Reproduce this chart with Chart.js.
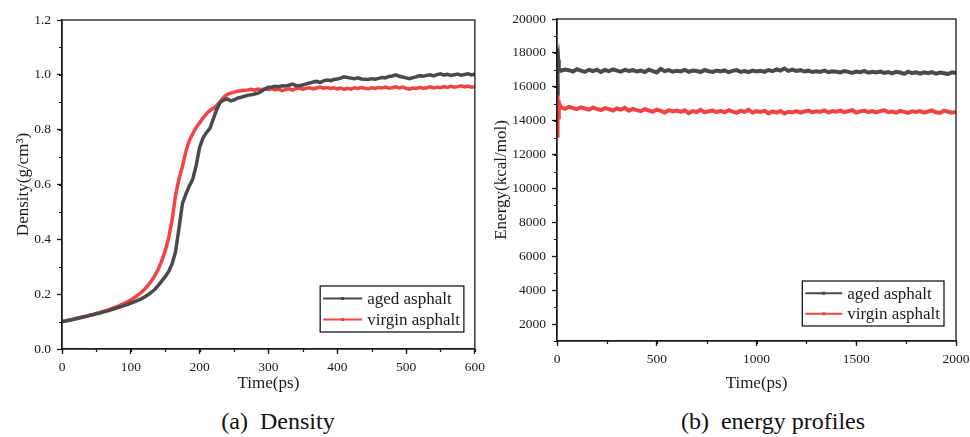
<!DOCTYPE html>
<html>
<head>
<meta charset="utf-8">
<script src="https://cdn.jsdelivr.net/npm/chart.js@4"></script>
<style>
  body { margin: 0; background: #fff; width: 970px; height: 437px; position: relative; overflow: hidden; }
  .box { position: absolute; top: 0; }
  .cap { position: absolute; font-family: "Times New Roman", "Liberation Serif", "DejaVu Serif", serif; font-size: 24px; color: #111; white-space: pre; transform: translateX(-50%); top: 408px; }
</style>
</head>
<body>
<div class="box" style="left:0;width:490px;height:400px"><canvas id="densityChart"></canvas></div>
<div class="box" style="left:490px;width:490px;height:400px"><canvas id="energyChart"></canvas></div>
<div class="cap" style="left:278px">(a)  Density</div>
<div class="cap" style="left:773px">(b)  energy profiles</div>
<script>
const seriesNames = ['aged asphalt', 'virgin asphalt'];
const seriesColors = ['#4a4a4a', '#f04444'];

// density, every 5 ps from 0 to 600
const densityTime = [
  0, 5, 10, 15, 20, 25, 30, 35, 40, 45, 50, 55, 60, 65, 70, 75, 80, 85, 90, 95,
  100, 105, 110, 115, 120, 125, 130, 135, 140, 145, 150, 155, 160, 165, 170, 175, 180, 185, 190, 195,
  200, 205, 210, 215, 220, 225, 230, 235, 240, 245, 250, 255, 260, 265, 270, 275, 280, 285, 290, 295,
  300, 305, 310, 315, 320, 325, 330, 335, 340, 345, 350, 355, 360, 365, 370, 375, 380, 385, 390, 395,
  400, 405, 410, 415, 420, 425, 430, 435, 440, 445, 450, 455, 460, 465, 470, 475, 480, 485, 490, 495,
  500, 505, 510, 515, 520, 525, 530, 535, 540, 545, 550, 555, 560, 565, 570, 575, 580, 585, 590, 595, 600
];
const densityAged = [
  0.100, 0.102, 0.105, 0.107, 0.110, 0.113, 0.116, 0.119, 0.122, 0.125, 0.128, 0.131, 0.135, 0.138, 0.142, 0.146, 0.150, 0.154, 0.158, 0.162,
  0.167, 0.172, 0.177, 0.183, 0.190, 0.198, 0.207, 0.218, 0.232, 0.248, 0.264, 0.283, 0.310, 0.355, 0.440, 0.530, 0.565, 0.595, 0.620, 0.670,
  0.735, 0.770, 0.790, 0.805, 0.840, 0.875, 0.900, 0.908, 0.912, 0.905, 0.908, 0.915, 0.918, 0.922, 0.925, 0.927, 0.930, 0.933, 0.940, 0.948,
  0.955, 0.956, 0.958, 0.957, 0.960, 0.959, 0.962, 0.966, 0.961, 0.960, 0.963, 0.967, 0.970, 0.974, 0.976, 0.972, 0.978, 0.981, 0.979, 0.983,
  0.985, 0.988, 0.993, 0.990, 0.988, 0.986, 0.989, 0.985, 0.984, 0.983, 0.986, 0.984, 0.987, 0.990, 0.989, 0.994, 0.996, 1.000, 0.995, 0.992,
  0.989, 0.986, 0.990, 0.993, 0.997, 0.995, 0.998, 1.000, 0.996, 1.001, 1.004, 0.999, 1.002, 0.998, 1.000, 1.003, 0.999, 1.001, 1.004, 1.000, 1.002
];
const densityVirgin = [
  0.100, 0.102, 0.105, 0.108, 0.111, 0.114, 0.117, 0.120, 0.123, 0.126, 0.130, 0.133, 0.137, 0.141, 0.145, 0.150, 0.155, 0.160, 0.166, 0.172,
  0.179, 0.187, 0.196, 0.206, 0.218, 0.232, 0.248, 0.268, 0.292, 0.322, 0.358, 0.405, 0.470, 0.560, 0.620, 0.665, 0.720, 0.760, 0.785, 0.808,
  0.825, 0.843, 0.858, 0.870, 0.878, 0.888, 0.902, 0.918, 0.928, 0.933, 0.937, 0.940, 0.942, 0.944, 0.945, 0.947, 0.944, 0.948, 0.946, 0.949,
  0.947, 0.950, 0.945, 0.948, 0.942, 0.946, 0.949, 0.944, 0.950, 0.952, 0.948, 0.951, 0.953, 0.949, 0.952, 0.955, 0.951, 0.954, 0.950, 0.953,
  0.949, 0.952, 0.947, 0.951, 0.948, 0.953, 0.950, 0.954, 0.951, 0.949, 0.953, 0.950, 0.954, 0.952, 0.955, 0.951, 0.953, 0.956, 0.952, 0.955,
  0.951, 0.948, 0.952, 0.950, 0.954, 0.951, 0.953, 0.956, 0.952, 0.955, 0.953, 0.957, 0.954, 0.958, 0.955, 0.957, 0.960, 0.956, 0.959, 0.955, 0.957
];

// energy, start-up spike then every 20 ps
const energyTime = [
  0, 2, 4, 6, 8, 10, 15,
  20, 40, 60, 80, 100, 120, 140, 160, 180, 200, 220, 240, 260, 280, 300, 320, 340, 360, 380, 400,
  420, 440, 460, 480, 500, 520, 540, 560, 580, 600, 620, 640, 660, 680, 700, 720, 740, 760, 780, 800,
  820, 840, 860, 880, 900, 920, 940, 960, 980, 1000, 1020, 1040, 1060, 1080, 1100, 1120, 1140, 1160, 1180, 1200,
  1220, 1240, 1260, 1280, 1300, 1320, 1340, 1360, 1380, 1400, 1420, 1440, 1460, 1480, 1500, 1520, 1540, 1560, 1580, 1600,
  1620, 1640, 1660, 1680, 1700, 1720, 1740, 1760, 1780, 1800, 1820, 1840, 1860, 1880, 1900, 1920, 1940, 1960, 1980, 2000
];
const energyAged = [
  15600, 18250, 17400, 17600, 17000, 17100, 16950,
  16950, 17020, 16980, 16900, 17040, 16960, 16880, 17000, 16930, 17010, 16870, 16990, 16920, 17030, 16950, 16890, 17000, 16940, 16980, 16900,
  16960, 16870, 17010, 16930, 16850, 17050, 16920, 16980, 16890, 16950, 16910, 17000, 16880, 16960, 16930, 16870, 16990, 16920, 16880, 16960,
  16900, 16970, 16860, 16940, 16990, 16880, 16930, 16870, 16960, 16910, 16950, 16880, 16990, 16920, 17030, 16960, 17080, 16940, 17010, 16930,
  16980, 16900, 16950, 16870, 16920, 16880, 16960, 16860, 16910, 16890, 16850, 16930, 16880, 16820, 16900, 16860, 16940, 16830, 16880, 16850,
  16900, 16820, 16870, 16790, 16880, 16840, 16760, 16890, 16810, 16860, 16780, 16850, 16800, 16870, 16770, 16840, 16800, 16760, 16850, 16820
];
const energyVirgin = [
  16200, 13000, 15300, 14200, 15200, 14700, 14900,
  14780, 14700, 14820, 14750, 14680, 14790, 14720, 14650, 14770, 14700, 14620, 14740, 14680, 14600, 14720, 14650, 14760, 14590, 14690, 14620,
  14560, 14680, 14600, 14530, 14650, 14580, 14480, 14620, 14550, 14600, 14520, 14610, 14450, 14570, 14510, 14640, 14490, 14560, 14600, 14510,
  14580, 14490, 14620, 14540, 14460, 14590, 14520, 14640, 14480, 14560, 14510, 14590, 14430, 14550, 14480, 14570, 14420, 14530, 14490, 14560,
  14470, 14540, 14600, 14490, 14560, 14520, 14610, 14480, 14570, 14530, 14590, 14500, 14560, 14620, 14480, 14550, 14600, 14510, 14570, 14490,
  14560, 14620, 14500, 14540, 14470, 14580, 14520, 14460, 14550, 14510, 14570, 14480, 14540, 14610, 14500, 14460, 14590, 14530, 14470, 14520
];

const FONT = '"Times New Roman", "Liberation Serif", "DejaVu Serif", serif';
const INK = '#1a1a1a';

function toPoints(xs, ys) {
    return xs.map((x, i) => ({ x: x, y: ys[i] }));
}

// frame, minor ticks and the boxed legend inside the plot
const framePlugin = {
    id: 'frame',
    afterDraw(chart, args, opts) {
        const { ctx, chartArea: a, scales } = chart;
        ctx.save();
        ctx.strokeStyle = INK;
        ctx.lineWidth = 1.3;
        ctx.strokeRect(a.left, a.top, a.right - a.left, a.bottom - a.top);

        // minor ticks
        ctx.lineWidth = 1.2;
        ctx.beginPath();
        for (let v = scales.x.min; v <= scales.x.max; v += opts.xMinor) {
            const px = Math.round(scales.x.getPixelForValue(v)) + 0.5;
            ctx.moveTo(px, a.bottom);
            ctx.lineTo(px, a.bottom + 3);
        }
        for (let v = scales.y.min; v <= scales.y.max; v += opts.yMinor) {
            const py = Math.round(scales.y.getPixelForValue(v)) + 0.5;
            ctx.moveTo(a.left, py);
            ctx.lineTo(a.left - 3, py);
        }
        ctx.stroke();

        // legend
        const lg = opts.legend;
        ctx.font = lg.fontSize + 'px ' + FONT;
        const sets = chart.data.datasets;
        const textW = Math.max(...sets.map(d => ctx.measureText(d.label).width));
        const w = 3 + lg.lineLen + 5 + textW + 4;
        const h = lg.rowH * sets.length + 4;
        const x0 = a.right - lg.right - w;
        const y0 = a.bottom - lg.bottom - h;
        ctx.fillStyle = '#fff';
        ctx.fillRect(x0, y0, w, h);
        ctx.lineWidth = 1.3;
        ctx.strokeStyle = INK;
        ctx.strokeRect(x0, y0, w, h);
        ctx.textBaseline = 'middle';
        sets.forEach((d, i) => {
            const cy = y0 + 2 + lg.rowH * (i + 0.5);
            ctx.strokeStyle = d.borderColor;
            ctx.lineWidth = 2;
            ctx.beginPath();
            ctx.moveTo(x0 + 3, cy);
            ctx.lineTo(x0 + 3 + lg.lineLen, cy);
            ctx.stroke();
            ctx.fillStyle = d.borderColor;
            ctx.fillRect(x0 + 3 + lg.lineLen / 2 - 1.5, cy - 1.5, 3, 3);
            ctx.fillStyle = INK;
            ctx.fillText(d.label, x0 + 3 + lg.lineLen + 5, cy + 1);
        });
        ctx.restore();
    }
};

function makeChart(id, cfg) {
    const ctx = document.getElementById(id).getContext('2d');
    return new Chart(ctx, {
        type: 'line',
        data: {
            datasets: cfg.series.map((ys, i) => ({
                label: seriesNames[i],
                data: toPoints(cfg.xs, ys),
                borderColor: seriesColors[i],
                borderWidth: cfg.lineWidth,
                pointRadius: 0,
                tension: 0
            }))
        },
        options: {
            responsive: true,
            maintainAspectRatio: false,
            animation: false,
            events: [],
            layout: { padding: cfg.padding },
            plugins: {
                legend: { display: false },
                tooltip: { enabled: false },
                frame: { xMinor: cfg.xMinor, yMinor: cfg.yMinor, legend: cfg.legend }
            },
            scales: {
                x: {
                    type: 'linear',
                    min: cfg.xMin, max: cfg.xMax,
                    afterFit: s => { s.height = cfg.xAxisH; },
                    ticks: {
                        stepSize: cfg.xStep, padding: 5, maxRotation: 0,
                        color: INK, font: { family: FONT, size: 13.5 },
                        callback: v => String(v)
                    },
                    grid: { drawOnChartArea: false, tickLength: 5, tickWidth: 1.3, tickColor: INK },
                    border: { color: INK, width: 1.3 },
                    title: {
                        display: true, text: 'Time(ps)', color: INK,
                        font: { family: FONT, size: 17 }, padding: { top: 0, bottom: cfg.xTitlePad }
                    }
                },
                y: {
                    min: cfg.yMin, max: cfg.yMax,
                    afterFit: s => { s.width = cfg.yAxisW; },
                    afterBuildTicks: s => { s.ticks = cfg.yTicks.map(v => ({ value: v })); },
                    ticks: {
                        padding: 6, color: INK, font: { family: FONT, size: 13.5 },
                        callback: cfg.yFormat
                    },
                    grid: { drawOnChartArea: false, tickLength: 5, tickWidth: 1.3, tickColor: INK },
                    border: { color: INK, width: 1.3 },
                    title: {
                        display: true, text: cfg.yTitle, color: INK,
                        font: { family: FONT, size: 17 }, padding: { top: cfg.yTitlePad, bottom: 0 }
                    }
                }
            }
        },
        plugins: [framePlugin]
    });
}

const densityTicks = [0, 0.2, 0.4, 0.6, 0.8, 1.0, 1.2];
const energyTicks = [2000, 4000, 6000, 8000, 10000, 12000, 14000, 16000, 18000, 20000];

makeChart('densityChart', {
    xs: densityTime,
    series: [densityAged, densityVirgin],
    lineWidth: 3.5,
    padding: { left: 0, right: 14, top: 20, bottom: 0 },
    xMin: 0, xMax: 600, xStep: 100, xMinor: 50,
    yMin: 0, yMax: 1.2, yTicks: densityTicks, yMinor: 0.1,
    yFormat: v => v.toFixed(1),
    yTitle: 'Density(g/cm³)',
    xAxisH: 51, yAxisW: 62,
    xTitlePad: 6, yTitlePad: 13,
    legend: { right: 11, bottom: 17, lineLen: 39, rowH: 21, fontSize: 17 }
});

makeChart('energyChart', {
    xs: energyTime,
    series: [energyAged, energyVirgin],
    lineWidth: 4,
    padding: { left: 0, right: 24, top: 19, bottom: 0 },
    xMin: 0, xMax: 2000, xStep: 500, xMinor: 250,
    yMin: 1000, yMax: 20000, yTicks: energyTicks, yMinor: 1000,
    yFormat: v => String(v),
    yTitle: 'Energy(kcal/mol)',
    xAxisH: 59, yAxisW: 67,
    xTitlePad: 6, yTitlePad: 1,
    legend: { right: 12, bottom: 15, lineLen: 37, rowH: 20.5, fontSize: 17 }
});
</script>
</body>
</html>
